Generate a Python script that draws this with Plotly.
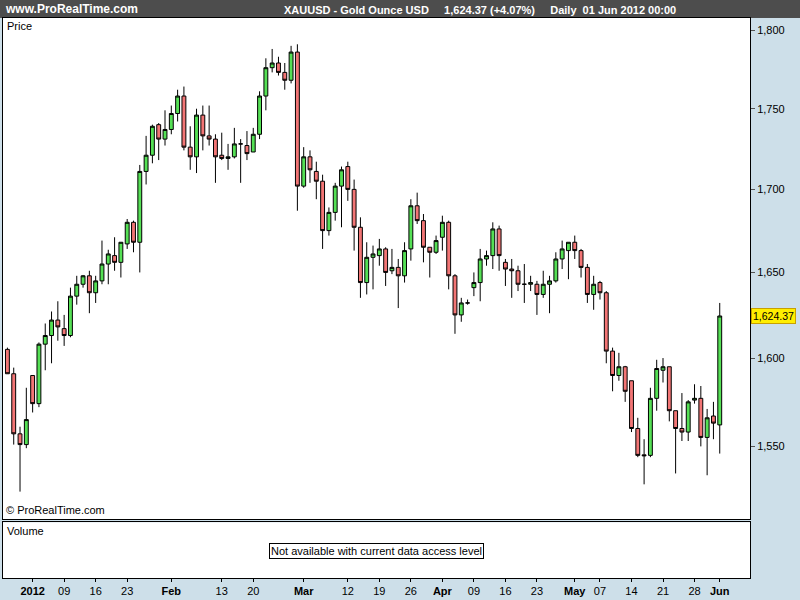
import math
import pandas as pd
import plotly.graph_objects as go
from plotly.subplots import make_subplots

# Daily XAUUSD candles up to Jun 1 2012 (weekdays)
dates = pd.bdate_range('2011-12-27', '2012-06-01').strftime('%Y-%m-%d').tolist()

opens = [1605, 1591, 1557, 1551, 1590, 1574, 1608, 1613, 1622, 1617,
         1613, 1636, 1643, 1648, 1638, 1645, 1655, 1660, 1656, 1667,
         1680, 1668, 1711, 1721, 1740, 1731, 1737, 1747, 1758, 1726,
         1720, 1746, 1733, 1731, 1721, 1719, 1720, 1728, 1727, 1723,
         1734, 1758, 1776, 1779, 1773, 1768, 1786, 1702, 1720, 1711,
         1705, 1675, 1686, 1702, 1714, 1700, 1677, 1644, 1659, 1660,
         1664, 1651, 1653, 1648, 1664, 1690, 1681, 1665, 1662, 1671,
         1680, 1648, 1625, 1632, 1641, 1644, 1658, 1660, 1676, 1656,
         1652, 1651, 1643, 1643, 1643, 1637, 1643, 1645, 1658, 1663,
         1668, 1663, 1653, 1637, 1644, 1638, 1604, 1590, 1595, 1587,
         1560, 1545.3, 1545, 1577, 1593, 1595, 1570, 1560, 1558, 1576,
         1577, 1555, 1567, 1562]
highs = [1606, 1594.5, 1561, 1583, 1590, 1609, 1620, 1627, 1633, 1625,
         1641, 1648, 1648.5, 1651, 1648, 1669, 1663.5, 1671, 1668, 1682,
         1681, 1715, 1733, 1740, 1741, 1749, 1752, 1762, 1764, 1739,
         1750, 1752, 1752, 1734, 1735, 1728, 1738, 1731, 1736, 1738,
         1761, 1782, 1788, 1783, 1779, 1790, 1791, 1726, 1724, 1717,
         1709, 1689, 1704, 1714, 1717, 1706, 1683, 1668, 1666, 1670,
         1665, 1664, 1658, 1668, 1694, 1698, 1685, 1665, 1672, 1684,
         1681, 1649, 1635, 1634, 1650, 1664, 1663, 1680, 1678, 1658,
         1658, 1654, 1655, 1648, 1645, 1651, 1648, 1662, 1669, 1668,
         1672, 1664, 1655, 1648, 1645, 1639, 1606, 1603, 1595.5, 1587,
         1566, 1554, 1583, 1599, 1600, 1595, 1570, 1580, 1576, 1585,
         1584, 1571, 1575, 1632]
lows = [1591, 1551, 1525, 1549, 1569, 1572, 1593, 1597, 1610, 1607,
        1612, 1631, 1641, 1626, 1632, 1643, 1643, 1651, 1647, 1664,
        1662, 1650, 1703, 1716, 1718, 1727, 1734, 1742, 1724, 1712,
        1710, 1724, 1727, 1704, 1718, 1712, 1719, 1704, 1718, 1723,
        1731, 1749, 1773, 1771, 1762, 1766, 1687, 1701, 1704, 1694,
        1664, 1672, 1681, 1677, 1693, 1663, 1635, 1637, 1640, 1654,
        1642, 1649, 1629, 1644, 1657, 1679, 1656, 1647, 1661, 1663,
        1640, 1614, 1621, 1631, 1636, 1633, 1654, 1652, 1651, 1642,
        1635, 1639, 1632, 1639, 1625, 1635, 1626, 1644, 1652, 1646,
        1658, 1647, 1632, 1628, 1634, 1597, 1581, 1587, 1575, 1558,
        1544, 1529, 1544, 1570, 1586, 1564, 1535, 1553, 1553, 1574,
        1550, 1534, 1554, 1546]
closes = [1591, 1557, 1551, 1565, 1574, 1608, 1613, 1622, 1618, 1613,
          1636, 1643, 1648, 1638, 1645, 1655, 1661, 1656, 1668, 1680,
          1668, 1711, 1721, 1739, 1731, 1737, 1747, 1758, 1726, 1720,
          1746, 1733, 1731, 1720, 1719, 1720, 1728, 1728, 1722, 1734,
          1758, 1776, 1779, 1773, 1768, 1786, 1702, 1720, 1712, 1705,
          1675, 1686, 1702, 1712, 1700, 1677, 1644, 1659, 1661, 1664,
          1650, 1653, 1648, 1663, 1690, 1681, 1665, 1662, 1669, 1680,
          1648, 1625, 1632, 1632, 1644, 1658, 1660, 1676, 1660, 1652,
          1651, 1643, 1643, 1644, 1637, 1643, 1645, 1658, 1664, 1668,
          1663, 1653, 1637, 1643, 1638, 1604, 1590, 1595, 1581, 1560,
          1545, 1544.8, 1577, 1594, 1595, 1570, 1560, 1558, 1575, 1577,
          1555, 1566, 1563, 1624.37]

ref_level = 1577
last_label = '1,624.37'

tick_dates = ['2012-01-02', '2012-01-09', '2012-01-16', '2012-01-23', '2012-02-01', '2012-02-13',
              '2012-02-20', '2012-03-01', '2012-03-12', '2012-03-19', '2012-03-26', '2012-04-02',
              '2012-04-09', '2012-04-16', '2012-04-23', '2012-05-01', '2012-05-07', '2012-05-14',
              '2012-05-21', '2012-05-28', '2012-06-01']
tick_text = ['<b>2012</b>', '09', '16', '23', '<b>Feb</b>', '13', '20', '<b>Mar</b>', '12', '19', '26',
             '<b>Apr</b>', '09', '16', '23', '<b>May</b>', '07', '14', '21', '28', '<b>Jun</b>']
price_ticks = [1550, 1600, 1650, 1700, 1750, 1800]

fig = make_subplots(rows=2, cols=1, shared_xaxes=True, row_heights=[0.9, 0.1], vertical_spacing=0.006)

fig.add_trace(go.Candlestick(
    x=dates, open=opens, high=highs, low=lows, close=closes,
    increasing=dict(line=dict(color='black', width=1), fillcolor='#55e055'),
    decreasing=dict(line=dict(color='black', width=1), fillcolor='#f27575'),
    whiskerwidth=0, showlegend=False, hoverinfo='skip'), row=1, col=1)

# empty volume panel (no data available)
fig.add_trace(go.Scatter(x=dates, y=[None] * len(dates), mode='lines', showlegend=False,
                         hoverinfo='skip'), row=2, col=1)

fig.add_hline(y=ref_level, line=dict(color='#888888', width=1, dash='dash'), row=1, col=1)

fig.update_xaxes(type='category', categoryorder='array', categoryarray=dates,
                 range=[-0.7, len(dates) + 3.8], showgrid=False, rangeslider_visible=False,
                 showline=True, linecolor='black', mirror=True, ticks='', showticklabels=False,
                 automargin=False)
fig.update_xaxes(tickvals=tick_dates, ticktext=tick_text, showticklabels=True,
                 ticks='outside', ticklen=3, tickcolor='black', row=2, col=1)

fig.update_yaxes(type='log', range=[3.179, 3.2572], side='right', tickvals=price_ticks,
                 tickformat=',', showgrid=False, ticks='outside', ticklen=4, tickcolor='#555',
                 showline=True, linecolor='black', mirror=True, automargin=False, row=1, col=1)
fig.update_yaxes(showticklabels=False, showgrid=False, zeroline=False, range=[0, 1],
                 showline=True, linecolor='black', mirror=True, automargin=False, row=2, col=1)

fig.update_layout(
    width=800, height=600,
    margin=dict(l=3, r=50, t=18, b=22),
    boxgap=0.12,
    paper_bgcolor='#cddfe9', plot_bgcolor='white',
    font=dict(family='Liberation Sans, Arial', size=11, color='black'),
    shapes=[dict(type='rect', xref='paper', yref='paper', x0=-0.01, x1=1.1, y0=1.0, y1=1.04,
                 fillcolor='#4d4d4d', line=dict(width=0), layer='below')],
    annotations=[
        dict(text='<b>www.ProRealTime.com</b>', xref='paper', yref='paper', x=0.0, y=1.0,
             xanchor='left', yanchor='bottom', showarrow=False, font=dict(color='white', size=12)),
        dict(text='<b>XAUUSD - Gold Ounce USD     1,624.37 (+4.07%)     Daily  01 Jun 2012 00:00</b>',
             xref='paper', yref='paper', x=0.638, y=1.0, xanchor='center', yanchor='bottom',
             showarrow=False, font=dict(color='white', size=11)),
        dict(text='Price', xref='paper', yref='paper', x=0.003, y=1.0, xanchor='left', yanchor='top',
             showarrow=False),
        dict(text='© ProRealTime.com', xref='paper', yref='paper', x=0.001, y=0.107, xanchor='left',
             yanchor='bottom', showarrow=False),
        dict(text='Volume', xref='paper', yref='paper', x=0.003, y=0.098, xanchor='left', yanchor='top',
             showarrow=False),
        dict(text='Not available with current data access level', xref='paper', yref='paper',
             x=0.50, y=0.048, xanchor='center', yanchor='middle', showarrow=False,
             bordercolor='black', borderwidth=1, bgcolor='white', borderpad=1),
        dict(text=last_label, xref='paper', yref='y', x=1.001, y=math.log10(closes[-1]),
             xanchor='left', yanchor='middle', showarrow=False, bgcolor='#ffee00',
             bordercolor='#c8a000', borderwidth=1, borderpad=1, font=dict(size=10.5)),
    ],
)

fig.write_html("out.html", config={'displayModeBar': False},
               post_script="document.body.style.margin='0';")
